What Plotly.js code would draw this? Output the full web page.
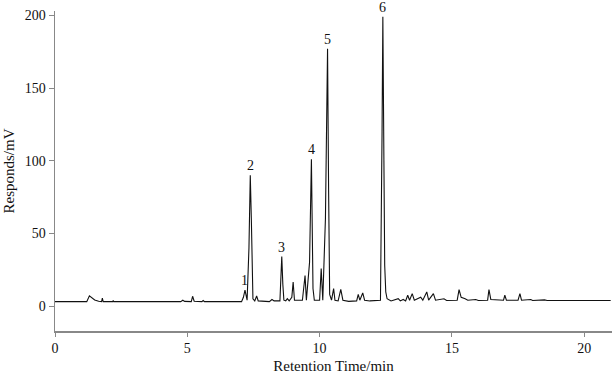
<!DOCTYPE html>
<html>
<head>
<meta charset="utf-8">
<script src="https://cdn.plot.ly/plotly-3.0.1.min.js"></script>
<style>html,body{margin:0;padding:0;background:#fff;}#chart{width:613px;height:376px;}</style>
</head>
<body>
<div id="chart"></div>
<script>
// Chromatogram trace (retention time in min, response in mV)
const retentionTime = [
  0, 1.2, 1.3, 1.4, 1.5, 1.65, 1.76, 1.79, 1.82, 2.18, 2.2, 2.22,
  4.75, 4.83, 4.9, 5.15, 5.2, 5.26, 5.55, 5.6, 5.65,
  7.05, 7.12, 7.18, 7.22, 7.26, 7.33, 7.38, 7.42, 7.45, 7.48, 7.55, 7.62, 7.68,
  8.1, 8.2, 8.28, 8.5, 8.57, 8.61, 8.65, 8.72, 8.78, 8.85, 8.95, 9.0, 9.05,
  9.35, 9.45, 9.5, 9.62, 9.69, 9.72, 9.75, 9.8, 10.0, 10.06, 10.12,
  10.22, 10.3, 10.34, 10.38, 10.45, 10.53, 10.58, 10.7, 10.8, 10.88,
  11.1, 11.4, 11.46, 11.52, 11.63, 11.7, 11.9,
  12.3, 12.36, 12.39, 12.43, 12.46, 12.5, 12.55, 12.7, 12.97, 13.05,
  13.16, 13.25, 13.33, 13.4, 13.5, 13.58, 13.82, 13.9, 14.05, 14.12,
  14.3, 14.38, 14.7, 14.8, 15.2, 15.27, 15.35, 15.5, 15.6, 15.9, 16.0,
  16.35, 16.4, 16.47, 16.95, 17.0, 17.06, 17.5, 17.57, 17.63, 17.98, 18.05,
  18.3, 18.5, 18.6, 21
];
const response = [
  3, 3, 7, 5.5, 4.2, 3.3, 3, 5.5, 3, 3, 3.8, 3,
  3, 4, 3.2, 3, 6.7, 3.3, 3, 3.8, 3,
  3, 6, 11, 6, 4, 40, 90, 60, 30, 5, 3.5, 6.9, 3.5,
  3, 4.5, 3.5, 3.5, 34, 15, 4, 3.5, 5, 3.5, 6, 16.5, 4,
  4, 21, 4, 30, 101, 40, 12, 4, 4, 25.8, 4,
  60, 177, 80, 8, 4, 12, 4, 3.5, 11.5, 4,
  3.2, 3.5, 8, 4, 9, 4, 3.5,
  4, 120, 199, 100, 28, 9.7, 5, 3.5, 5, 3.5,
  4.5, 3.5, 7.4, 4, 8.5, 4, 6, 4, 9.7, 4,
  8.5, 4, 5, 3.8, 4, 11.3, 6, 5, 4, 4.5, 3.8,
  4, 11.3, 4.5, 4, 7.4, 4, 4, 8.5, 4, 4.5, 3.8,
  4.2, 4.2, 3.8, 3.8
];
// Labelled peaks
const peakLabels = ['1', '2', '3', '4', '5', '6'];
const peakTimes = [7.18, 7.38, 8.57, 9.69, 10.3, 12.39];
const peakHeights = [11, 90, 34, 101, 177, 199];

const xTicks = [0, 5, 10, 15, 20];
const yTicks = [0, 50, 100, 150, 200];

const serif = 'Liberation Serif, Times New Roman, serif';

const trace = {
  x: retentionTime, y: response, type: 'scatter', mode: 'lines',
  line: {color: '#111', width: 1.1}, hoverinfo: 'skip'
};

const annotations = peakLabels.map((t, i) => ({
  x: peakTimes[i], y: peakHeights[i], text: t, showarrow: false,
  xanchor: 'center', yanchor: 'bottom', yshift: 0,
  font: {family: serif, size: 14, color: '#111'}
}));

const layout = {
  width: 613, height: 376,
  margin: {l: 55, r: 1, t: 11, b: 45},
  paper_bgcolor: '#fff', plot_bgcolor: '#fff',
  showlegend: false,
  font: {family: serif, size: 14, color: '#111'},
  xaxis: {
    range: [0, 21.05], tickvals: xTicks, ticktext: xTicks.map(String),
    showgrid: false, zeroline: false, showline: true, linecolor: '#888', linewidth: 1.5,
    ticks: 'outside', ticklen: 4, tickcolor: '#888', tickwidth: 1,
    tickfont: {family: serif, size: 14, color: '#111'},
    title: {text: 'Retention Time/min', font: {family: serif, size: 15, color: '#111'}, standoff: 5}
  },
  yaxis: {
    range: [-17.2, 203], tickvals: yTicks, ticktext: yTicks.map(String),
    showgrid: false, zeroline: false, showline: true, linecolor: '#888', linewidth: 1.5,
    ticks: 'outside', ticklen: 5, tickcolor: '#888', tickwidth: 1,
    tickfont: {family: serif, size: 14, color: '#111'},
    title: {text: 'Responds/mV', font: {family: serif, size: 15, color: '#111'}, standoff: 6}
  },
  annotations: annotations
};

Plotly.newPlot('chart', [trace], layout, {displayModeBar: false, staticPlot: true});
</script>
</body>
</html>
